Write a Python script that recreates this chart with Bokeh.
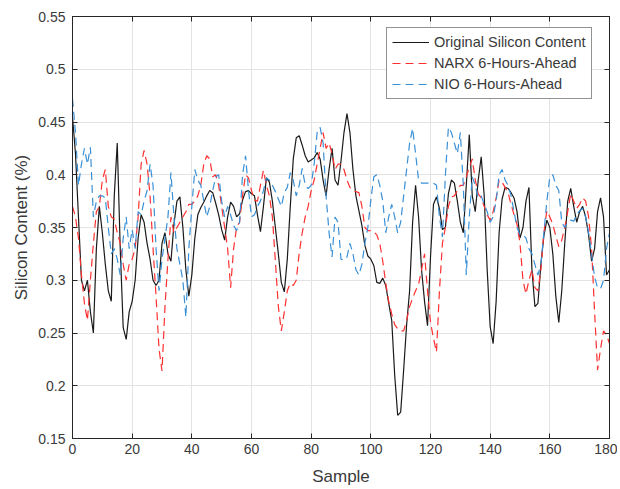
from bokeh.plotting import figure
from bokeh.models import ColumnDataSource, FixedTicker, LinearAxis, Legend, LegendItem, Range1d
from bokeh.embed import file_html
from bokeh.resources import INLINE

sample = list(range(0, 181))

original = [
    0.455, 0.42, 0.36, 0.30, 0.29, 0.30, 0.27, 0.25, 0.33, 0.37,
    0.345, 0.315, 0.29, 0.28, 0.38, 0.43, 0.33, 0.255, 0.244, 0.27,
    0.28, 0.30, 0.34, 0.362, 0.355, 0.335, 0.32, 0.30, 0.295, 0.30,
    0.335, 0.345, 0.325, 0.318, 0.353, 0.375, 0.379, 0.35, 0.31, 0.285,
    0.305, 0.34, 0.362, 0.369, 0.374, 0.38, 0.385, 0.383, 0.373, 0.362,
    0.348, 0.338, 0.36, 0.374, 0.37, 0.36, 0.363, 0.376, 0.384, 0.385,
    0.382, 0.38, 0.362, 0.346, 0.37, 0.397, 0.393, 0.375, 0.35, 0.325,
    0.298, 0.289, 0.32, 0.37, 0.415, 0.435, 0.437, 0.428, 0.418, 0.412,
    0.414, 0.416, 0.421, 0.415, 0.395, 0.38, 0.405, 0.425, 0.395, 0.39,
    0.413, 0.44, 0.458, 0.44, 0.405, 0.38, 0.366, 0.352, 0.333, 0.323,
    0.32, 0.314, 0.298, 0.297, 0.302, 0.295, 0.278, 0.262, 0.21, 0.172,
    0.175, 0.215, 0.258, 0.29, 0.355, 0.39, 0.36, 0.31, 0.28, 0.257,
    0.322, 0.372, 0.379, 0.368, 0.348, 0.35, 0.382, 0.395, 0.392, 0.375,
    0.355, 0.345, 0.39, 0.438, 0.38, 0.365, 0.395, 0.417, 0.38, 0.31,
    0.256, 0.24, 0.28, 0.345, 0.377, 0.388, 0.387, 0.383, 0.378, 0.365,
    0.34, 0.35, 0.375, 0.388, 0.31, 0.275, 0.278, 0.315, 0.342, 0.357,
    0.35, 0.325, 0.285, 0.26, 0.29, 0.335, 0.375, 0.387, 0.37, 0.355,
    0.365, 0.37, 0.36, 0.343, 0.318, 0.33, 0.365, 0.378, 0.36, 0.305,
    0.31,
]

narx = [
    0.37, 0.36, 0.34, 0.305, 0.278, 0.262, 0.30, 0.335, 0.365, 0.37,
    0.395, 0.405, 0.37, 0.36, 0.358, 0.345, 0.335, 0.315, 0.30, 0.315,
    0.32, 0.33, 0.36, 0.41, 0.423, 0.41, 0.38, 0.33, 0.285, 0.235,
    0.214, 0.275, 0.32, 0.36, 0.345, 0.35, 0.355, 0.36, 0.365, 0.372,
    0.372, 0.375, 0.38, 0.39, 0.41, 0.418, 0.415, 0.398, 0.40, 0.39,
    0.37, 0.35, 0.33, 0.293, 0.33, 0.35, 0.355, 0.38, 0.40, 0.397,
    0.385, 0.376, 0.375, 0.39, 0.404, 0.39, 0.38, 0.36, 0.318, 0.275,
    0.252, 0.27, 0.29, 0.297, 0.295, 0.30, 0.326, 0.345, 0.36, 0.37,
    0.385, 0.395, 0.41, 0.425, 0.44, 0.425, 0.43, 0.42, 0.405, 0.41,
    0.41, 0.405, 0.395, 0.388, 0.385, 0.384, 0.383, 0.37, 0.35, 0.347,
    0.347, 0.346, 0.343, 0.335, 0.318, 0.297, 0.28, 0.268, 0.258, 0.254,
    0.252, 0.252, 0.262, 0.275, 0.283, 0.29, 0.296, 0.31, 0.325, 0.29,
    0.26, 0.245, 0.232, 0.29, 0.335, 0.35, 0.37, 0.379, 0.38, 0.385,
    0.39, 0.39, 0.398, 0.407, 0.415, 0.395, 0.382, 0.378, 0.37, 0.362,
    0.357, 0.365, 0.378, 0.395, 0.393, 0.388, 0.383, 0.372, 0.362, 0.353,
    0.335, 0.30, 0.287, 0.30, 0.31, 0.293, 0.29, 0.31, 0.345, 0.366,
    0.36, 0.353, 0.342, 0.332, 0.338, 0.35, 0.365, 0.382, 0.375, 0.368,
    0.372, 0.378, 0.375, 0.36, 0.33, 0.27, 0.215, 0.235, 0.252, 0.248,
    0.24,
]

nio = [
    0.472, 0.44, 0.39, 0.41, 0.425, 0.41, 0.426, 0.36, 0.375, 0.38,
    0.38, 0.378, 0.35, 0.325, 0.33, 0.32, 0.305, 0.34, 0.36, 0.33,
    0.348, 0.33, 0.365, 0.362, 0.375, 0.385, 0.41, 0.39, 0.33, 0.29,
    0.32, 0.34, 0.36, 0.402, 0.36, 0.33, 0.315, 0.30, 0.265, 0.33,
    0.37, 0.405, 0.395, 0.39, 0.375, 0.36, 0.37, 0.385, 0.398, 0.40,
    0.375, 0.36, 0.37, 0.362, 0.352, 0.347, 0.355, 0.40, 0.418, 0.385,
    0.36, 0.362, 0.37, 0.375, 0.385, 0.397, 0.395, 0.39, 0.384, 0.377,
    0.37, 0.383, 0.388, 0.402, 0.395, 0.38, 0.39, 0.406, 0.39, 0.387,
    0.39, 0.41, 0.44, 0.445, 0.43, 0.38, 0.345, 0.322, 0.36, 0.355,
    0.32, 0.319, 0.322, 0.335, 0.325, 0.31, 0.305, 0.315, 0.335, 0.35,
    0.376, 0.398, 0.40, 0.39, 0.375, 0.345, 0.36, 0.372, 0.36, 0.345,
    0.355, 0.38, 0.405, 0.43, 0.444, 0.42, 0.395, 0.392, 0.392, 0.392,
    0.392, 0.392, 0.39, 0.36, 0.341, 0.40, 0.445, 0.44, 0.43, 0.42,
    0.44, 0.39, 0.305, 0.36, 0.398, 0.39, 0.378, 0.38, 0.372, 0.365,
    0.355, 0.36, 0.375, 0.40, 0.405, 0.395, 0.39, 0.38, 0.365, 0.35,
    0.343, 0.343, 0.34, 0.33, 0.325, 0.315, 0.305, 0.315, 0.345, 0.375,
    0.398, 0.40, 0.39, 0.385, 0.355, 0.35, 0.355, 0.357, 0.356, 0.362,
    0.366, 0.368, 0.36, 0.345, 0.325, 0.303, 0.293, 0.292, 0.30, 0.33,
    0.345,
]

x_ticks = [0, 20, 40, 60, 80, 100, 120, 140, 160, 180]
y_ticks = [0.15, 0.2, 0.25, 0.3, 0.35, 0.4, 0.45, 0.5, 0.55]
y_tick_labels = ["0.15", "0.2", "0.25", "0.3", "0.35", "0.4", "0.45", "0.5", "0.55"]

src = ColumnDataSource(dict(x=sample, orig=original, narx=narx, nio=nio))

FONT = "Liberation Sans"
AX = "#262626"
TXT = "#3a3a3a"

p = figure(width=617, height=488, output_backend="svg", toolbar_location=None,
           x_range=Range1d(0, 180), y_range=Range1d(0.15, 0.55),
           min_border_left=72, min_border_right=8, min_border_top=16, min_border_bottom=50)
p.background_fill_color = "white"
p.border_fill_color = "white"
p.outline_line_color = AX

r_orig = p.line("x", "orig", source=src, line_color="#1a1a1a", line_width=1.2)
r_narx = p.line("x", "narx", source=src, line_color="#ff3030", line_width=1.2, line_dash="8 5")
r_nio = p.line("x", "nio", source=src, line_color="#3a90d6", line_width=1.2, line_dash="8 5")

for ax in (p.xaxis[0], p.yaxis[0]):
    ax.major_tick_in = 5
    ax.major_tick_out = 0
    ax.minor_tick_line_color = None
    ax.axis_line_color = AX
    ax.major_tick_line_color = AX
    ax.major_label_text_font = FONT
    ax.major_label_text_font_size = "14px"
    ax.major_label_text_color = TXT
    ax.axis_label_text_font = FONT
    ax.axis_label_text_font_size = "17px"
    ax.axis_label_text_font_style = "normal"
    ax.axis_label_text_color = TXT

p.xaxis[0].ticker = FixedTicker(ticks=x_ticks)
p.yaxis[0].ticker = FixedTicker(ticks=y_ticks)
p.yaxis[0].major_label_overrides = {t: l for t, l in zip(y_ticks, y_tick_labels)}
p.xaxis[0].axis_label = "Sample"
p.yaxis[0].axis_label = "Silicon Content (%)"
p.xaxis[0].major_label_standoff = 5
p.yaxis[0].major_label_standoff = 7
p.xaxis[0].axis_label_standoff = 10
p.yaxis[0].axis_label_standoff = 4

for loc, tk in (("above", x_ticks), ("right", y_ticks)):
    a = LinearAxis(ticker=FixedTicker(ticks=tk), major_tick_in=5, major_tick_out=0,
                   minor_tick_line_color=None, axis_line_color=AX, major_tick_line_color=AX,
                   major_label_text_font_size="0px", major_label_text_color=None,
                   major_label_standoff=0)
    p.add_layout(a, loc)

p.xgrid.ticker = FixedTicker(ticks=x_ticks)
p.ygrid.ticker = FixedTicker(ticks=y_ticks)
for g in (p.xgrid[0], p.ygrid[0]):
    g.grid_line_color = "#e3e3e3"
    g.grid_line_width = 1

legend = Legend(items=[
    LegendItem(label="Original Silicon Content", renderers=[r_orig]),
    LegendItem(label="NARX 6-Hours-Ahead", renderers=[r_narx]),
    LegendItem(label="NIO 6-Hours-Ahead", renderers=[r_nio]),
], location=(314, 339))
legend.label_text_font = FONT
legend.label_text_font_size = "14.5px"
legend.label_text_color = TXT
legend.glyph_width = 37
legend.glyph_height = 18
legend.label_height = 18
legend.label_standoff = 5
legend.spacing = 3
legend.padding = 5
legend.margin = 0
legend.border_line_color = AX
legend.border_line_width = 1
legend.background_fill_color = "white"
legend.background_fill_alpha = 1.0
p.add_layout(legend, "center")

open("out.html", "w").write(file_html(p, INLINE))
